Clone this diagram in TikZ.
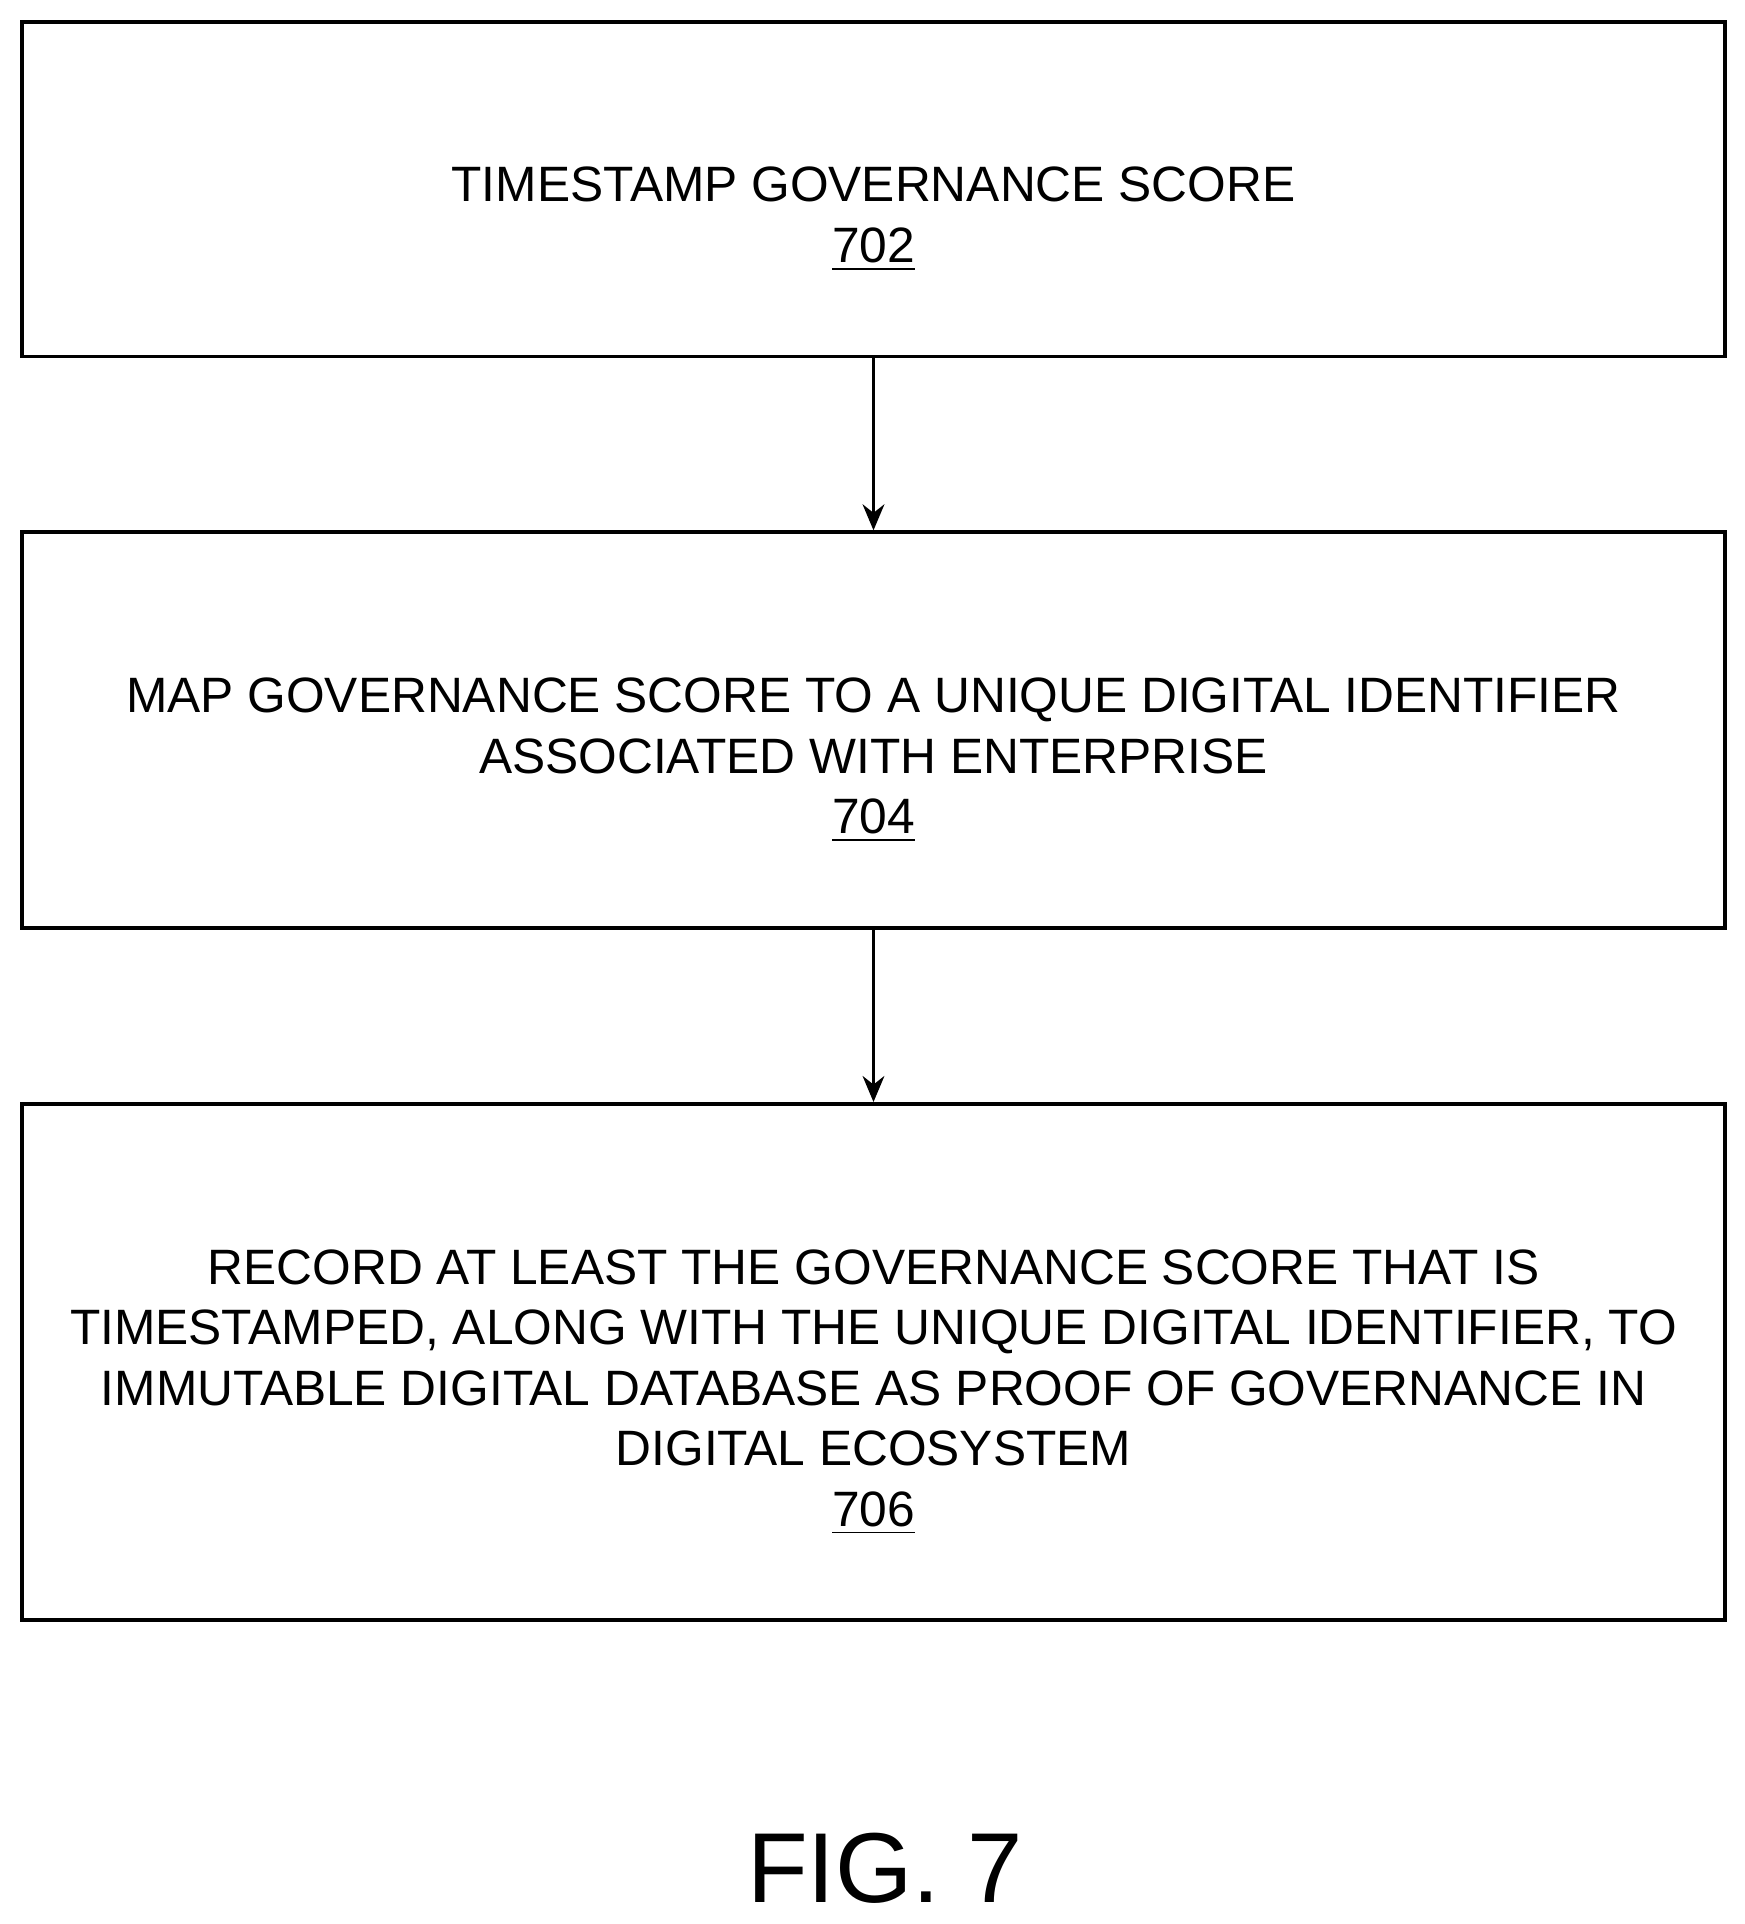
\documentclass[tikz,border=0pt]{standalone}
\usepackage{fontspec}
\setmainfont{Liberation Sans}
\usetikzlibrary{positioning,arrows.meta}
\tikzset{
  stepbox/.style={draw, line width=0.9pt, minimum width=13.85cm, inner sep=0pt},
  steptext/.style={align=center, font=\fontsize{11.5pt}{14pt}\selectfont},
  flow/.style={-{Stealth[length=6pt,width=5pt]}, line width=0.9pt}
}
\begin{document}
\begin{tikzpicture}
\useasboundingbox (0,0) rectangle (14.19,-15.65);
\node[stepbox, minimum height=2.72cm] (s702) at (7.105,-1.54) {};
\node[stepbox, minimum height=3.22cm] (s704) at (7.105,-5.94) {};
\node[stepbox, minimum height=4.20cm] (s706) at (7.105,-11.08) {};
\node[steptext, yshift=-0.245cm] (t702) at (s702) {TIMESTAMP GOVERNANCE SCORE\\\underline{702}};
\node[steptext, yshift=-0.245cm] (t704) at (s704) {MAP GOVERNANCE SCORE TO A UNIQUE DIGITAL IDENTIFIER\\ASSOCIATED WITH ENTERPRISE\\\underline{704}};
\node[steptext, yshift=-0.245cm] (t706) at (s706) {RECORD AT LEAST THE GOVERNANCE SCORE THAT IS\\TIMESTAMPED, ALONG WITH THE UNIQUE DIGITAL IDENTIFIER, TO\\IMMUTABLE DIGITAL DATABASE AS PROOF OF GOVERNANCE IN\\DIGITAL ECOSYSTEM\\\underline{706}};
\draw[flow] (s702) -- (s704);
\draw[flow] (s704) -- (s706);
\node[font=\fontsize{23pt}{28pt}\selectfont] (fig) at (7.2,-15.2) {FIG. 7};
\end{tikzpicture}
\end{document}
